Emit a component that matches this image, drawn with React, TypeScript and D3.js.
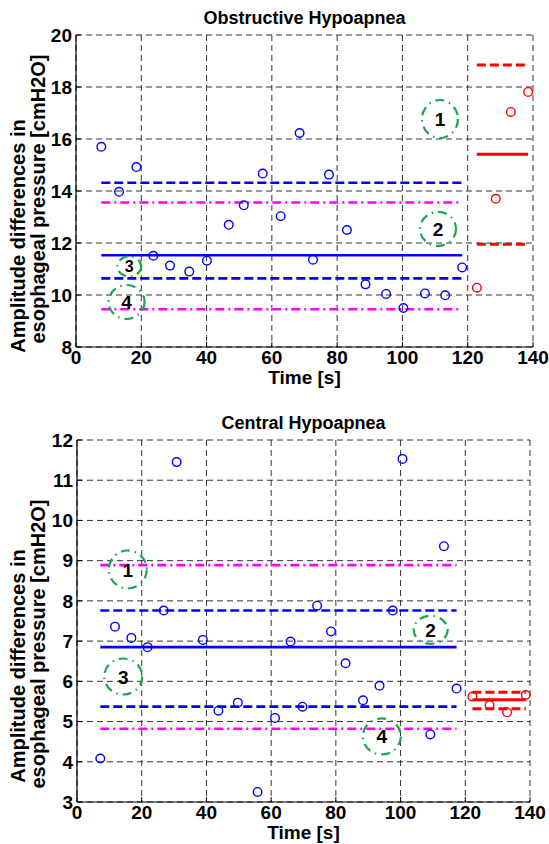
import React from "react";
import * as d3 from "d3";

// ---------- data ----------
const xTicks = [0, 20, 40, 60, 80, 100, 120, 140];

const obsTicksY = [8, 10, 12, 14, 16, 18, 20];
const obsBlueT = [7.75, 13.2, 18.5, 23.7, 28.8, 34.7, 40.1, 46.8, 51.4, 57.2, 62.7, 68.5, 72.6, 77.5, 83.0, 88.7, 95.0, 100.3, 106.9, 113.1, 118.3];
const obsBlueV = [15.7, 13.97, 14.92, 11.51, 11.13, 10.9, 11.32, 12.7, 13.45, 14.67, 13.03, 16.23, 11.36, 14.63, 12.5, 10.41, 10.04, 9.5, 10.06, 9.99, 11.06];
const obsRedT = [122.8, 128.6, 133.2, 138.5];
const obsRedV = [10.28, 13.7, 17.04, 17.81];
const obsBlueMean = 11.53;
const obsBlueDash = [14.32, 10.64];
const obsMagenta = [13.56, 9.45];
const obsRedMean = 15.41;
const obsRedDash = [18.85, 11.95];
const obsMarkLabels = ["1", "2", "3", "4"];
const obsMarkT = [111.5, 110.9, 16.3, 15.5];
const obsMarkV = [16.77, 12.54, 11.1, 9.73];
const obsMarkR = [[18, 19], [18, 17], [12, 10], [18, 17]];

const cenTicksY = [3, 4, 5, 6, 7, 8, 9, 10, 11, 12];
const cenBlueT = [7.2, 11.74, 16.8, 21.8, 26.8, 30.8, 38.9, 43.7, 49.7, 55.8, 61.2, 66.0, 69.7, 74.2, 78.5, 83.0, 88.4, 93.5, 97.6, 100.6, 109.2, 113.4, 117.3];
const cenBlueV = [4.08, 7.36, 7.08, 6.85, 7.76, 11.45, 7.03, 5.27, 5.47, 3.25, 5.09, 6.99, 5.37, 7.88, 7.24, 6.45, 5.53, 5.89, 7.76, 11.53, 4.68, 9.36, 5.82];
const cenRedT = [122.2, 127.5, 132.9, 138.7];
const cenRedV = [5.62, 5.41, 5.23, 5.66];
const cenBlueMean = 6.85;
const cenBlueDash = [7.76, 5.37];
const cenMagenta = [8.89, 4.82];
const cenRedMean = 5.54;
const cenRedDash = [5.73, 5.32];
const cenMarkLabels = ["1", "2", "3", "4"];
const cenMarkT = [15.7, 109.3, 14.3, 94.2];
const cenMarkV = [8.78, 7.28, 6.12, 4.63];
const cenMarkR = [[19, 19], [17, 14], [19, 18], [19, 18]];

const FONT = "'Liberation Sans', Arial, Helvetica, sans-serif";
const BLUE = "#0000ff";
const RED = "#ff0000";
const MAG = "#ff00ff";
const GREEN = "#1aa64e";

type PanelProps = {
  title: string;
  left: number; right: number; top: number; bottom: number;
  yDomain: [number, number];
  yTicks: number[];
  blueT: number[]; blueV: number[];
  redT: number[]; redV: number[];
  blueMean: number; blueDash: number[]; magenta: number[];
  redMean: number; redDash: number[];
  markLabels: string[]; markT: number[]; markV: number[]; markR: number[][];
  titleY: number;
  labelCenters: [number, number];
  smallMark?: number;
};

function Panel(p: PanelProps) {
  const x = d3.scaleLinear().domain([0, 140]).range([p.left, p.right]);
  const y = d3.scaleLinear().domain(p.yDomain).range([p.bottom, p.top]);
  const bx0 = x(d3.min(p.blueT) as number);
  const bx1 = x(d3.max(p.blueT) as number);
  const rx0 = x(d3.min(p.redT) as number);
  const rx1 = x(d3.max(p.redT) as number);
  const cx = (p.left + p.right) / 2;
  return (
    <g>
      {/* grid */}
      {xTicks.map((t) => (
        <line key={"gx" + t} x1={x(t)} x2={x(t)} y1={p.top} y2={p.bottom} stroke="#333" strokeWidth={1} strokeDasharray="6,4" />
      ))}
      {p.yTicks.map((t) => (
        <line key={"gy" + t} x1={p.left} x2={p.right} y1={y(t)} y2={y(t)} stroke="#333" strokeWidth={1} strokeDasharray="6,4" />
      ))}
      {/* axes */}
      <line x1={p.left} x2={p.left} y1={p.top} y2={p.bottom} stroke="#000" strokeWidth={1.2} />
      <line x1={p.left} x2={p.right} y1={p.bottom} y2={p.bottom} stroke="#000" strokeWidth={1.2} />
      {xTicks.map((t) => (
        <line key={"tx" + t} x1={x(t)} x2={x(t)} y1={p.bottom} y2={p.bottom - 5} stroke="#000" strokeWidth={1} />
      ))}
      {p.yTicks.map((t) => (
        <line key={"ty" + t} x1={p.left} x2={p.left + 5} y1={y(t)} y2={y(t)} stroke="#000" strokeWidth={1} />
      ))}
      {/* tick labels */}
      {xTicks.map((t) => (
        <text key={"lx" + t} x={x(t)} y={p.bottom + 16.5} textAnchor="middle" fontFamily={FONT} fontWeight="bold" fontSize={19}>{t}</text>
      ))}
      {p.yTicks.map((t) => (
        <text key={"ly" + t} x={p.left - 4} y={y(t) + 6.8} textAnchor="end" fontFamily={FONT} fontWeight="bold" fontSize={19}>{t}</text>
      ))}
      {/* labels */}
      <text x={cx} y={p.titleY} textAnchor="middle" fontFamily={FONT} fontWeight="bold" fontSize={18}>{p.title}</text>
      <text x={cx} y={p.bottom + 36.5} textAnchor="middle" fontFamily={FONT} fontWeight="bold" fontSize={19}>Time [s]</text>
      <text transform={`translate(25,${p.labelCenters[0]}) rotate(-90)`} textAnchor="middle" fontFamily={FONT} fontWeight="bold" fontSize={20}>Amplitude differences in</text>
      <text transform={`translate(45,${p.labelCenters[1]}) rotate(-90)`} textAnchor="middle" fontFamily={FONT} fontWeight="bold" fontSize={20}>esophageal pressure [cmH2O]</text>
      {/* blue statistic lines */}
      <line x1={bx0} x2={bx1} y1={y(p.magenta[0])} y2={y(p.magenta[0])} stroke={MAG} strokeWidth={2.6} strokeDasharray="9,4,2,4" />
      <line x1={bx0} x2={bx1} y1={y(p.magenta[1])} y2={y(p.magenta[1])} stroke={MAG} strokeWidth={2.6} strokeDasharray="9,4,2,4" />
      <line x1={bx0} x2={bx1} y1={y(p.blueDash[0])} y2={y(p.blueDash[0])} stroke={BLUE} strokeWidth={2.6} strokeDasharray="9,4" />
      <line x1={bx0} x2={bx1} y1={y(p.blueDash[1])} y2={y(p.blueDash[1])} stroke={BLUE} strokeWidth={2.6} strokeDasharray="9,4" />
      <line x1={bx0} x2={bx1} y1={y(p.blueMean)} y2={y(p.blueMean)} stroke={BLUE} strokeWidth={2.6} />
      {/* red statistic lines */}
      <line x1={rx0} x2={rx1} y1={y(p.redDash[0])} y2={y(p.redDash[0])} stroke={RED} strokeWidth={3} strokeDasharray="9,4" />
      <line x1={rx0} x2={rx1} y1={y(p.redDash[1])} y2={y(p.redDash[1])} stroke={RED} strokeWidth={3} strokeDasharray="9,4" />
      <line x1={rx0} x2={rx1} y1={y(p.redMean)} y2={y(p.redMean)} stroke={RED} strokeWidth={3} />
      {/* points */}
      {p.blueT.map((t, i) => (
        <circle key={"b" + i} cx={x(t)} cy={y(p.blueV[i])} r={4.3} fill="#fff" fillOpacity={0} stroke={BLUE} strokeWidth={1.4} />
      ))}
      {p.redT.map((t, i) => (
        <circle key={"r" + i} cx={x(t)} cy={y(p.redV[i])} r={4.3} fill="#fff" fillOpacity={0} stroke={RED} strokeWidth={1.4} />
      ))}
      {/* annotation ellipses */}
      {p.markLabels.map((l, i) => (
        <g key={"m" + i}>
          <ellipse cx={x(p.markT[i])} cy={y(p.markV[i])} rx={p.markR[i][0]} ry={p.markR[i][1]} fill="none" stroke={GREEN} strokeWidth={2.2} strokeDasharray="9,5,1.5,5" />
          <text x={x(p.markT[i])} y={y(p.markV[i]) + (p.smallMark === i ? 6 : 7)} textAnchor="middle" fontFamily={FONT} fontWeight="bold" fontSize={p.smallMark === i ? 16 : 19}>{l}</text>
        </g>
      ))}
    </g>
  );
}

export default function App() {
  return (
    <svg width={549} height={844} style={{ position: "absolute", left: 0, top: 0, background: "#fff" }}>
      <rect width={549} height={844} fill="#fff" />
      <Panel
        title="Obstructive Hypoapnea" titleY={24}
        left={76} right={533} top={35} bottom={347}
        yDomain={[8, 20]} yTicks={obsTicksY}
        blueT={obsBlueT} blueV={obsBlueV} redT={obsRedT} redV={obsRedV}
        blueMean={obsBlueMean} blueDash={obsBlueDash} magenta={obsMagenta}
        redMean={obsRedMean} redDash={obsRedDash}
        markLabels={obsMarkLabels} markT={obsMarkT} markV={obsMarkV} markR={obsMarkR}
        labelCenters={[236, 199]} smallMark={2}
      />
      <Panel
        title="Central Hypoapnea" titleY={429}
        left={77} right={530} top={440} bottom={802}
        yDomain={[3, 12]} yTicks={cenTicksY}
        blueT={cenBlueT} blueV={cenBlueV} redT={cenRedT} redV={cenRedV}
        blueMean={cenBlueMean} blueDash={cenBlueDash} magenta={cenMagenta}
        redMean={cenRedMean} redDash={cenRedDash}
        markLabels={cenMarkLabels} markT={cenMarkT} markV={cenMarkV} markR={cenMarkR}
        labelCenters={[666, 644]}
      />
    </svg>
  );
}
